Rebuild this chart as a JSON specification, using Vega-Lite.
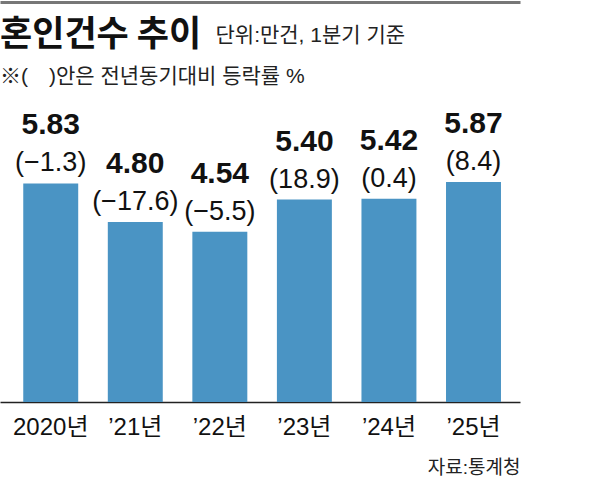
{
  "$schema": "https://vega.github.io/schema/vega-lite/v6.json",
  "autosize": {"type": "none"},
  "width": 520,
  "height": 400,
  "padding": {"top": 2, "left": 0, "right": 69, "bottom": 82},
  "background": "white",
  "title": {
    "text": "혼인건수 추이",
    "subtitle": "※(　)안은 전년동기대비 등락률 %",
    "anchor": "start",
    "frame": "group",
    "offset": -85,
    "font": "Noto Sans CJK KR",
    "fontSize": 35,
    "fontWeight": 700,
    "color": "#111111",
    "subtitleFont": "Liberation Sans, Noto Sans CJK KR",
    "subtitleFontSize": 21,
    "subtitleColor": "#222222",
    "subtitlePadding": 13
  },
  "data": {
    "values": [
      {"year": "2020년", "cnt": 5.83, "chg": "(−1.3)"},
      {"year": "’21년", "cnt": 4.80, "chg": "(−17.6)"},
      {"year": "’22년", "cnt": 4.54, "chg": "(−5.5)"},
      {"year": "’23년", "cnt": 5.40, "chg": "(18.9)"},
      {"year": "’24년", "cnt": 5.42, "chg": "(0.4)"},
      {"year": "’25년", "cnt": 5.87, "chg": "(8.4)"}
    ]
  },
  "encoding": {
    "x": {
      "field": "year",
      "type": "nominal",
      "sort": null,
      "scale": {"paddingInner": 0.35, "paddingOuter": 0.25, "align": 0.55}
    },
    "y": {
      "field": "cnt",
      "type": "quantitative",
      "scale": {"domain": [0, 10.67], "nice": false},
      "axis": null
    }
  },
  "layer": [
    {
      "mark": {"type": "bar", "color": "#4a94c4"},
      "encoding": {
        "x": {
          "field": "year",
          "type": "nominal",
          "sort": null,
          "axis": {
            "orient": "bottom",
            "title": "자료:통계청",
            "titleAnchor": "end",
            "titleFont": "Liberation Sans, Noto Sans CJK KR",
            "titleFontSize": 19,
            "titleFontWeight": "normal",
            "titleColor": "#222222",
            "titlePadding": 19,
            "labelAngle": 0,
            "labelFont": "Liberation Sans, Noto Sans CJK KR",
            "labelFontSize": 24,
            "labelColor": "#111111",
            "labelPadding": 13,
            "ticks": false,
            "domainColor": "#222222",
            "domainWidth": 1.5
          }
        }
      }
    },
    {
      "mark": {
        "type": "text",
        "baseline": "alphabetic",
        "dy": -49,
        "font": "Liberation Sans",
        "fontSize": 30,
        "fontWeight": "bold",
        "color": "#111111"
      },
      "encoding": {
        "x": {
          "field": "year",
          "type": "nominal",
          "sort": null,
          "axis": {
            "orient": "top",
            "labels": false,
            "ticks": false,
            "domainColor": "#777777",
            "domainWidth": 3,
            "title": "단위:만건, 1분기 기준",
            "titleFont": "Liberation Sans, Noto Sans CJK KR",
            "titleFontSize": 21,
            "titleFontWeight": "normal",
            "titleColor": "#222222",
            "titleAlign": "left",
            "titleBaseline": "alphabetic",
            "titleX": 215,
            "titleY": 39
          }
        },
        "text": {"field": "cnt", "type": "quantitative", "format": ".2f"}
      }
    },
    {
      "mark": {
        "type": "text",
        "baseline": "alphabetic",
        "dy": -12,
        "font": "Liberation Sans",
        "fontSize": 27,
        "color": "#111111"
      },
      "encoding": {
        "x": {"field": "year", "type": "nominal", "sort": null, "axis": null},
        "text": {"field": "chg"}
      }
    }
  ],
  "resolve": {"axis": {"x": "independent"}},
  "config": {"view": {"stroke": null}}
}
